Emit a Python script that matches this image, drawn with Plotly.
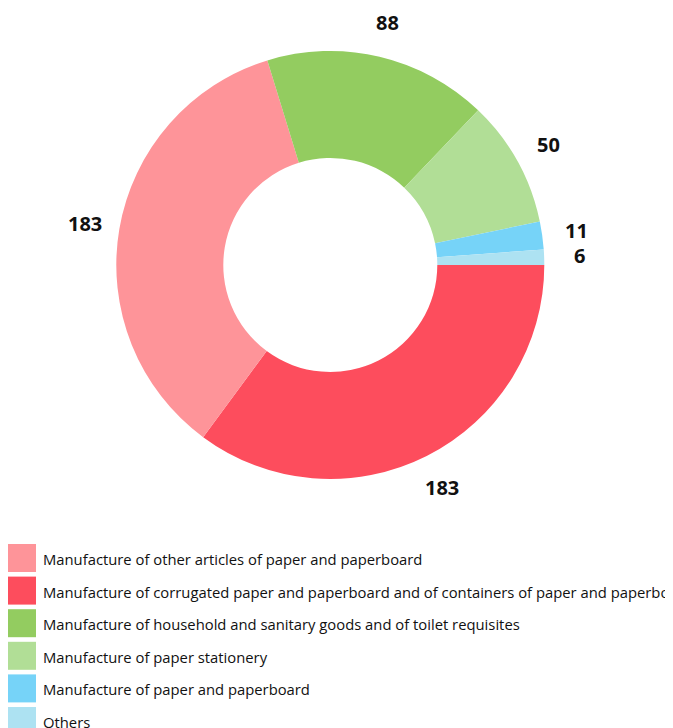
import math
import plotly.graph_objects as go

# ---- data ----
legend_labels = [
    "Manufacture of other articles of paper and paperboard",
    "Manufacture of corrugated paper and paperboard and of containers of paper and paperboard",
    "Manufacture of household and sanitary goods and of toilet requisites",
    "Manufacture of paper stationery",
    "Manufacture of paper and paperboard",
    "Others",
]
legend_values = [183, 183, 88, 50, 11, 6]
legend_colors = ["#fe9499", "#fd4d5d", "#93cc60", "#b1de96", "#76d3f8", "#ade2f2"]

# drawing order of the slices (clockwise from 3 o'clock)
slice_order = [1, 0, 2, 3, 4, 5]
slice_labels = [legend_labels[i] for i in slice_order]
slice_values = [legend_values[i] for i in slice_order]
slice_colors = [legend_colors[i] for i in slice_order]

OFF = 8  # page body margin
W, H = 673 + OFF, 728 + OFF
CX, CY, R = 330.3 - OFF, 265.0 - OFF, 214.0
LABEL_R = 249.0


def px_x(x):
    return x / W


def px_y(y):
    return 1 - y / H


fig = go.Figure()
fig.add_trace(go.Pie(
    labels=slice_labels,
    values=slice_values,
    marker=dict(colors=slice_colors, line=dict(width=0)),
    sort=False,
    direction="clockwise",
    rotation=90,
    hole=0.5,
    textinfo="none",
    hoverinfo="label+value",
    showlegend=False,
    domain=dict(x=[px_x(CX - R), px_x(CX + R)], y=[px_y(CY + R), px_y(CY - R)]),
))

# value labels around the ring
total = sum(slice_values)
annotations = []
cum = 0.0
for v in slice_values:
    mid = (cum + v / 2) / total * 2 * math.pi
    cum += v
    annotations.append(dict(
        x=px_x(CX + LABEL_R * math.cos(mid)), y=px_y(CY + LABEL_R * math.sin(mid)),
        xref="paper", yref="paper",
        text=str(v), showarrow=False, xanchor="center", yanchor="middle",
        font=dict(family="Open Sans", size=20, color="#111111", weight="bold"),
    ))

# legend
shapes = []
for i, (lab, col) in enumerate(zip(legend_labels, legend_colors)):
    top = 544 - OFF + 32.6 * i
    shapes.append(dict(
        type="rect", xref="paper", yref="paper",
        x0=px_x(8 - OFF), x1=px_x(36 - OFF), y0=px_y(top + 28), y1=px_y(top),
        fillcolor=col, line=dict(width=0), layer="above",
    ))
    annotations.append(dict(
        x=px_x(41 - OFF), y=px_y(top + 15), xref="paper", yref="paper",
        text=lab, showarrow=False, xanchor="left", yanchor="middle",
        font=dict(family="Open Sans", size=14.8, color="#111111"),
    ))

fig.update_layout(
    width=W, height=H,
    margin=dict(l=0, r=0, t=0, b=0, autoexpand=False),
    paper_bgcolor="white", plot_bgcolor="white",
    showlegend=False,
    annotations=annotations,
    shapes=shapes,
)

fig.write_html("out.html")
